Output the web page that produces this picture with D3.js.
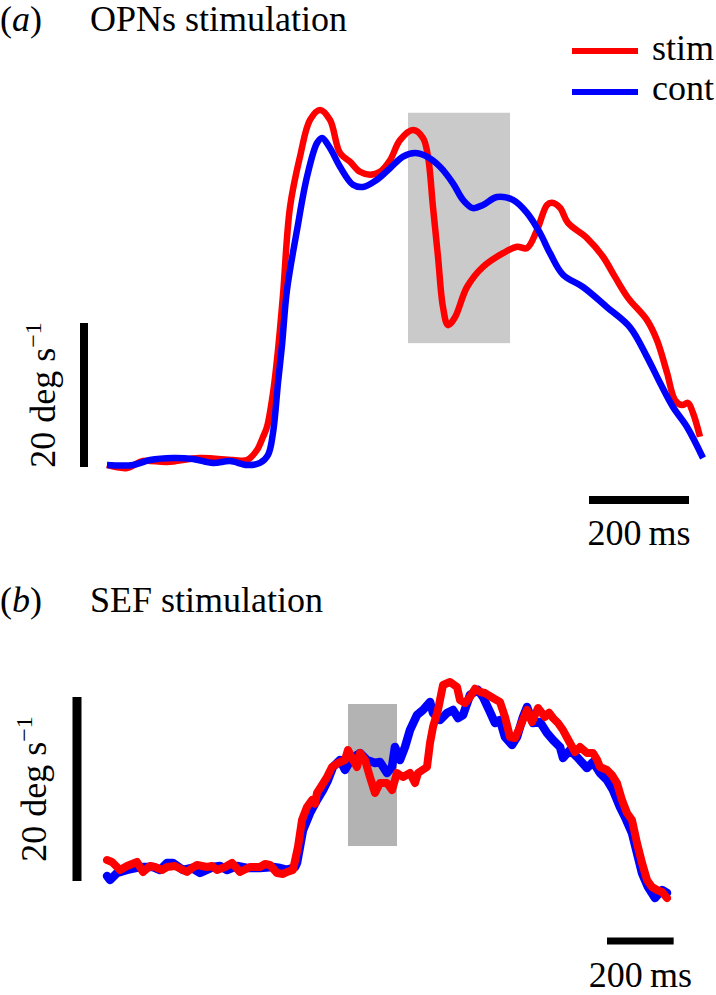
<!DOCTYPE html>
<html><head><meta charset="utf-8">
<script src="https://cdn.jsdelivr.net/npm/d3@7"></script>
<style>
html,body{margin:0;padding:0;background:#fff;}
svg text{font-family:"Liberation Serif","Times New Roman","DejaVu Serif",serif;fill:#000;}
</style></head>
<body>
<svg id="chart" width="716" height="995"></svg>
<script>
// ---------- Panel (a): OPNs stimulation (time ms, eye velocity deg/s) ----------
const aStimT = [0,40,72,120,186,252,280,300,312,320,332,342,352,366,386,406,426,446,466,486,506,526,546,566,586,612,632,642,652,662,672,682,696,720,752,792,820,840,860,880,890,906,922,960,992,1016,1042,1080,1100,1120,1136,1150,1162,1172,1186];
const aStimV = [0.28,-0.14,0.83,0.69,1.25,0.97,0.97,2.36,4.17,5.56,10.28,16.25,23.9,36.1,43.1,48.2,49.6,48.2,43.6,42.4,41.0,40.6,41.0,42.6,45.4,46.8,45.7,43.1,36.1,29.2,22.2,19.7,20.8,25.0,27.8,29.7,30.6,30.4,32.9,36.4,36.7,36.0,33.9,31.8,29.2,26.4,23.5,20.4,17.6,13.1,9.3,8.6,8.9,7.5,4.2];
const aContT = [0,52,86,132,172,212,246,280,306,322,332,342,350,360,380,400,420,430,446,466,492,512,540,566,592,616,640,666,692,712,732,752,780,812,840,866,886,912,952,1000,1046,1080,1106,1132,1160,1192];
const aContV = [0.28,0.28,0.97,1.25,1.11,0.56,0.83,0.28,0.56,1.67,4.72,11.67,16.9,24.6,32.9,40.3,45.0,45.7,44.3,41.7,39.2,38.9,39.9,41.5,43.1,43.6,43.1,41.7,39.4,37.1,35.96,36.4,37.5,37.1,35.3,32.5,29.7,26.7,25.0,22.2,19.4,15.3,11.7,8.33,5.56,1.25];
const aWindow = [602, 806];      // ms, stimulation window
const aWindowV = [17.2, 49.2];   // deg/s extent of shaded box

// ---------- Panel (b): SEF stimulation ----------
const bStimT = [0,15,39,60,90,108,129,144,165,180,204,240,255,270,300,315,330,354,375,399,429,459,474,489,510,528,540,558,573,585,600,615,624,630,645,660,675,693,714,723,738,750,759,774,789,804,819,840,855,870,888,909,924,933,960,969,978,993,1008,1029,1050,1059,1074,1089,1104,1119,1134,1158,1179,1194,1209,1224,1239,1260,1275,1293,1314,1326,1338,1353,1368,1389,1404,1419,1440,1458,1470,1479,1500,1515,1530,1545,1560,1575,1590,1605,1620,1635,1650,1665,1680];
const bStimV = [2.28,2.07,1.2,1.63,2.07,0.98,1.63,1.52,1.2,1.52,1.63,0.98,1.41,1.74,1.52,1.63,1.2,1.52,1.96,0.98,1.52,1.52,1.85,1.74,0.87,0.76,0.98,1.2,3.7,6.63,8.04,8.8,8.4,9.57,10.43,11.3,12.39,12.83,13.15,14.24,13.15,12.39,13.91,13.15,11.3,9.57,10.65,10.65,9.89,11.74,11.3,11.74,10.65,11.74,12.39,15.0,16.74,18.59,21.3,21.63,21.09,19.67,19.35,20.0,20.9,20.54,20.43,19.89,19.46,17.83,15.65,15.54,16.74,18.59,17.28,18.8,17.83,18.3,17.72,17.17,16.41,15.0,14.02,14.57,13.91,13.91,13.2,12.39,12.07,11.52,10.65,8.8,7.39,6.63,4.13,1.96,0.11,-0.65,-0.98,-1.2,-1.85];
const bContT = [0,9,30,60,99,138,159,180,198,228,255,279,318,339,360,390,420,459,498,519,540,564,570,588,609,630,648,663,678,699,714,735,759,780,804,819,840,855,864,879,894,909,930,948,969,978,999,1020,1038,1053,1068,1089,1113,1128,1149,1164,1179,1194,1215,1230,1248,1260,1278,1299,1320,1338,1359,1368,1389,1410,1440,1458,1479,1500,1518,1539,1554,1575,1590,1605,1623,1644,1665,1680];
const bContV = [0.54,0.11,0.87,1.2,1.52,1.52,1.2,1.96,1.96,1.2,1.41,0.87,1.52,1.63,1.2,1.63,1.41,1.41,1.52,1.41,1.2,1.52,1.96,5.54,7.39,8.8,9.89,10.98,12.39,13.15,12.07,13.37,13.91,13.15,12.83,12.93,11.74,12.39,14.57,13.15,14.57,16.41,18.04,18.59,19.46,18.26,17.5,18.26,18.59,17.72,18.04,20.22,20.76,20.0,18.37,17.17,17.5,15.65,14.78,15.65,17.83,18.91,17.17,17.28,16.09,15.33,14.57,13.37,14.24,13.48,12.28,12.93,11.74,10.98,9.89,8.04,6.96,5.22,3.04,0.87,-0.65,-1.85,-0.98,-1.3];
const bWindow = [723, 870];
const bWindowV = [3.8, 19.24];

// scale bars & labels
const scaleBarV = 20;    // deg/s
const scaleBarT = 200;   // ms
const seriesNames = ["stim", "cont"];
const titles = ["OPNs stimulation", "SEF stimulation"];
const panelLetters = ["a", "b"];

const FONT = "'Liberation Serif','Times New Roman','DejaVu Serif',serif";
const zip = (t, v) => t.map((d, i) => ({t: d, v: v[i]}));
const svg = d3.select("#chart");
const RED = "#ff0000", BLUE = "#0000ff";
const txt = () => svg.append("text").attr("font-family", FONT).attr("font-size", 36);

function title(y, letter, text) {
  const g = txt().attr("x", 0).attr("y", y);
  g.append("tspan").text("(");
  g.append("tspan").attr("font-style", "italic").text(letter);
  g.append("tspan").text(")");
  txt().attr("x", 90).attr("y", y).text(text);
}
function vlabel(x, yc) {
  const t = txt().attr("transform", `translate(${x},${yc}) rotate(-90)`)
    .attr("text-anchor", "middle");
  t.append("tspan").text("20 deg s");
  t.append("tspan").attr("font-size", 24).attr("dy", -14).text("\u22121");
}

// ---------- Panel a ----------
const xA = d3.scaleLinear().domain([0, 1200]).range([107, 707]);
const yA = d3.scaleLinear().domain([0, 20]).range([467, 323]);
title(31, panelLetters[0], titles[0]);

svg.append("rect")
  .attr("x", xA(aWindow[0])).attr("width", xA(aWindow[1]) - xA(aWindow[0]))
  .attr("y", yA(aWindowV[1])).attr("height", yA(aWindowV[0]) - yA(aWindowV[1]))
  .attr("fill", "#cacaca");

const lineA = d3.line().x(d => xA(d.t)).y(d => yA(d.v)).curve(d3.curveCatmullRom.alpha(0.5));
svg.append("path").datum(zip(aStimT, aStimV)).attr("d", lineA)
  .attr("fill", "none").attr("stroke", RED).attr("stroke-width", 6.5).attr("stroke-linejoin", "round");
svg.append("path").datum(zip(aContT, aContV)).attr("d", lineA)
  .attr("fill", "none").attr("stroke", BLUE).attr("stroke-width", 6.5).attr("stroke-linejoin", "round");

// legend
[[RED, 51, 60], [BLUE, 92, 100]].forEach(([c, ly, ty], i) => {
  svg.append("line").attr("x1", 572).attr("x2", 638).attr("y1", ly).attr("y2", ly)
    .attr("stroke", c).attr("stroke-width", 6);
  txt().attr("x", 652).attr("y", ty).text(seriesNames[i]);
});

// scale bars a
svg.append("line").attr("x1", 84).attr("x2", 84).attr("y1", yA(0)).attr("y2", yA(scaleBarV))
  .attr("stroke", "#000").attr("stroke-width", 8);
vlabel(55, (yA(0) + yA(scaleBarV)) / 2);
const a0 = 589, aw = xA(scaleBarT) - xA(0);
svg.append("line").attr("x1", a0).attr("x2", a0 + aw).attr("y1", 500).attr("y2", 500)
  .attr("stroke", "#000").attr("stroke-width", 8);
txt().attr("x", a0 + aw / 2).attr("y", 545).attr("text-anchor", "middle").text("200\u2009ms");

// ---------- Panel b ----------
const xB = d3.scaleLinear().domain([0, 1800]).range([107, 707]);
const yB = d3.scaleLinear().domain([0, 20]).range([881, 697]);
title(612, panelLetters[1], titles[1]);

svg.append("rect")
  .attr("x", xB(bWindow[0])).attr("width", xB(bWindow[1]) - xB(bWindow[0]))
  .attr("y", yB(bWindowV[1])).attr("height", yB(bWindowV[0]) - yB(bWindowV[1]))
  .attr("fill", "#b3b3b3");

const lineB = d3.line().x(d => xB(d.t)).y(d => yB(d.v)).curve(d3.curveLinear);
svg.append("path").datum(zip(bContT, bContV)).attr("d", lineB)
  .attr("fill", "none").attr("stroke", BLUE).attr("stroke-width", 8.5)
  .attr("stroke-linejoin", "round").attr("stroke-linecap", "round");
svg.append("path").datum(zip(bStimT, bStimV)).attr("d", lineB)
  .attr("fill", "none").attr("stroke", RED).attr("stroke-width", 8)
  .attr("stroke-linejoin", "round").attr("stroke-linecap", "round");

svg.append("line").attr("x1", 77).attr("x2", 77).attr("y1", yB(0)).attr("y2", yB(scaleBarV))
  .attr("stroke", "#000").attr("stroke-width", 9);
vlabel(46, (yB(0) + yB(scaleBarV)) / 2);
const b0 = 607, bw = xB(scaleBarT) - xB(0);
svg.append("line").attr("x1", b0).attr("x2", b0 + bw).attr("y1", 941).attr("y2", 941)
  .attr("stroke", "#000").attr("stroke-width", 7);
txt().attr("x", b0 + bw / 2).attr("y", 987).attr("text-anchor", "middle").text("200\u2009ms");
</script>
</body></html>
